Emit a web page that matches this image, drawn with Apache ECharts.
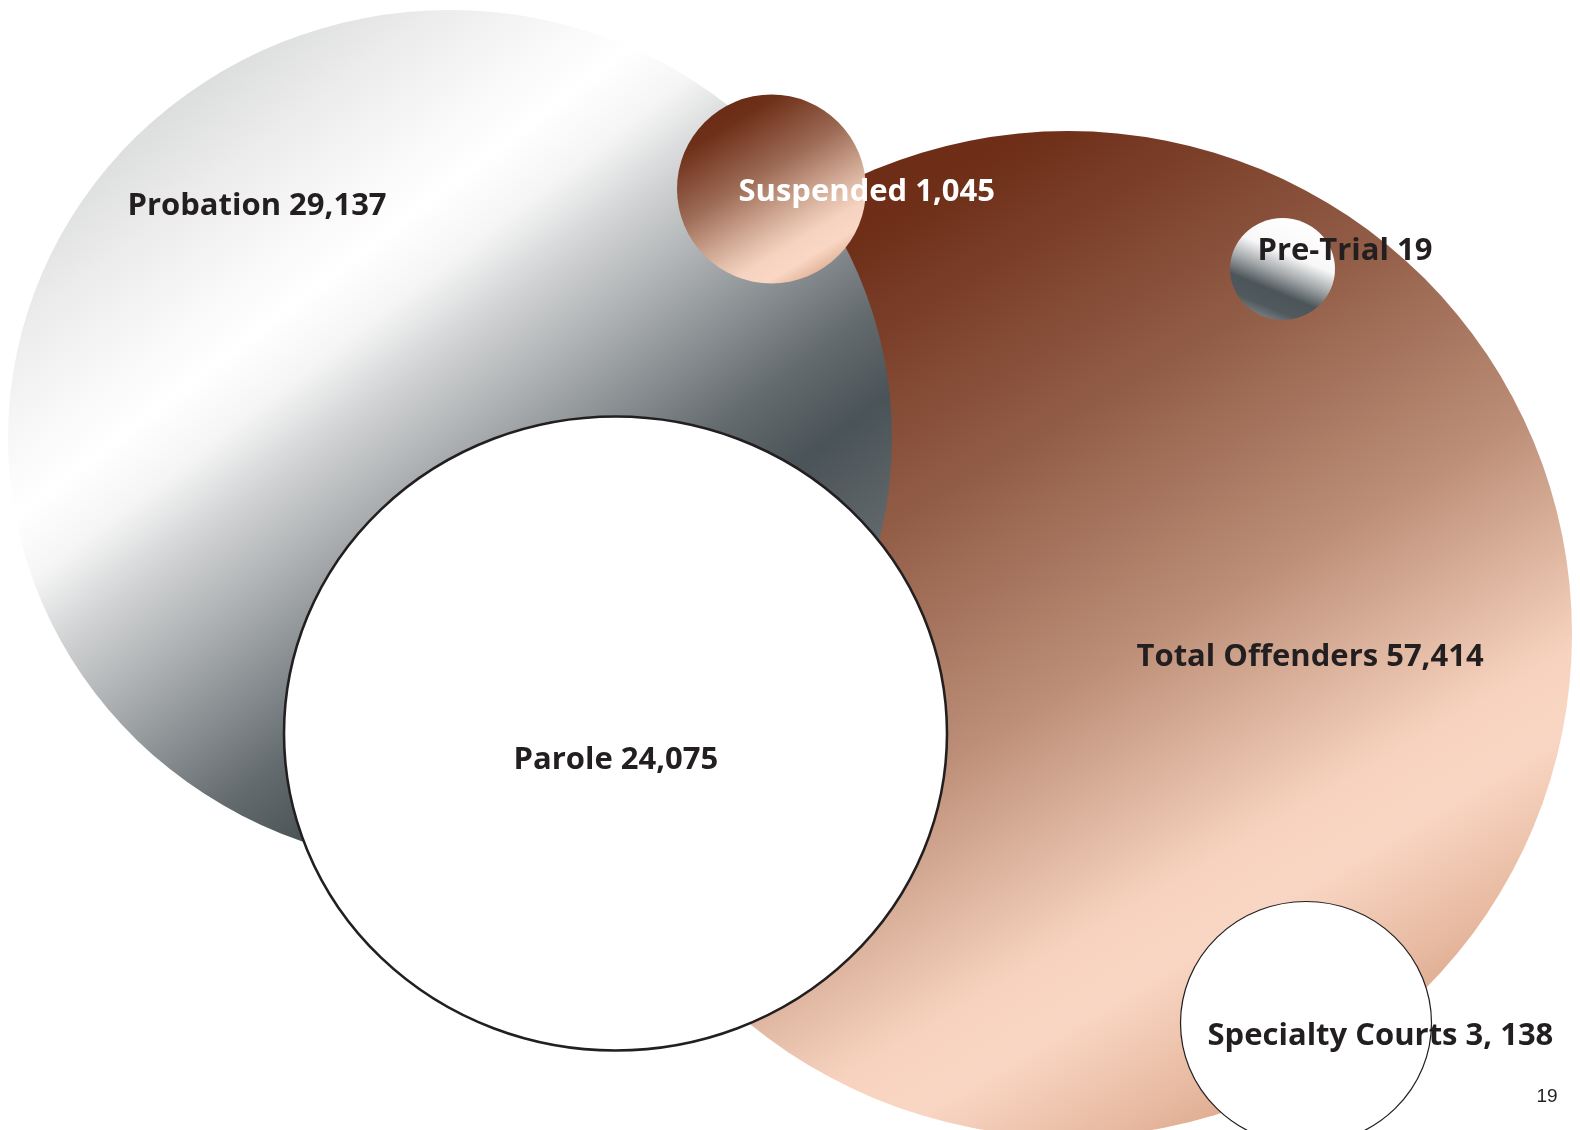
<!DOCTYPE html>
<html>
<head>
<meta charset="utf-8">
<script src="https://cdn.jsdelivr.net/npm/echarts@6/dist/echarts.min.js"></script>
<style>
  html, body { margin: 0; padding: 0; background: #ffffff; }
  #chart { width: 1580px; height: 1130px; }
</style>
</head>
<body>
<div id="chart"></div>
<script>
// ---- data ----
const names = ['Total Offenders', 'Probation', 'Suspended', 'Parole', 'Pre-Trial', 'Specialty Courts'];
const values = [57414, 29137, 1045, 24075, 19, 3138];
const valueText = ['57,414', '29,137', '1,045', '24,075', '19', '3, 138'];
const pageNumber = '19';

// ---- layout (diagram positions in axis units, sizes in px) ----
const bubbleX = [1068, 450, 771.5, 615.5, 1282.5, 1306];
const bubbleY = [634, 438, 189, 733.5, 269, 1023];
const bubbleW = [1008, 884, 189, 663, 105, 251];
const bubbleH = [1006, 856, 189, 634, 102, 243];
const labelX = [1137, 128, 739, 514, 1258, 1208];
const labelY = [658, 207, 193, 761, 251.5, 1037];
const pageX = 1537, pageY = 1097;

const LG = (x, y, x2, y2, stops) => new echarts.graphic.LinearGradient(x, y, x2, y2,
  stops.map(s => ({ offset: s[0], color: s[1] })));

const copperBig = LG(0.05, 0.086, 0.635, 1.078, [
  [0, '#6a2a14'], [0.12, '#6e2e18'], [0.35, '#925d47'], [0.55, '#bd8f78'],
  [0.65, '#dcb39d'], [0.74, '#f7d3bf'], [0.8, '#f9d6c3'], [0.9, '#e7b9a0'], [1, '#cf9677']
]);
const silverBig = LG(0.124, 0.157, 0.744, 0.942, [
  [0, '#dcdddd'], [0.1, '#ececec'], [0.2, '#f8f8f8'], [0.27, '#ffffff'], [0.34, '#f5f5f5'],
  [0.42, '#cfd1d2'], [0.5, '#b0b3b5'], [0.6, '#858b8e'], [0.68, '#646b6f'], [0.77, '#4a5357'],
  [0.9, '#62696d'], [1, '#7a8083']
]);
const copperSmall = LG(0.093, 0.154, 0.617, 1.028, [
  [0, '#6b2c16'], [0.1, '#6f3019'], [0.4, '#9c6a55'], [0.58, '#c69c86'],
  [0.7, '#e0bca9'], [0.8, '#f6d3c0'], [0.9, '#f9d7c4'], [1, '#e2b298']
]);
const silverSmall = LG(0.75, 0.05, 0.35, 1.0, [
  [0, '#ffffff'], [0.35, '#f8f8f8'], [0.55, '#a0a5a7'],
  [0.72, '#4c5559'], [0.88, '#50595d'], [1, '#7a8083']
]);

const bubbleStyles = [
  { color: copperBig },
  { color: silverBig },
  { color: copperSmall },
  { color: '#ffffff', borderColor: '#231f20', borderWidth: 2.5 },
  { color: silverSmall },
  { color: '#ffffff', borderColor: '#231f20', borderWidth: 1.2 }
];
const labelColors = ['#231f20', '#231f20', '#ffffff', '#231f20', '#231f20', '#231f20'];

const ellipse = 'path://M0,50 A50,50 0 1,1 100,50 A50,50 0 1,1 0,50 Z';

const bubbleData = names.map((n, i) => ({
  name: n,
  value: [bubbleX[i], bubbleY[i], values[i]],
  symbolSize: [bubbleW[i], bubbleH[i]],
  itemStyle: Object.assign({ opacity: 1 }, bubbleStyles[i])
}));

const labelFont = { fontFamily: 'Open Sans', fontWeight: 700, fontSize: 31 };
const labelData = names.map((n, i) => ({
  name: n,
  value: [labelX[i], labelY[i], values[i]],
  label: Object.assign({ color: labelColors[i], opacity: 1 }, labelFont),
  labelText: n + ' ' + valueText[i]
}));
labelData.push({
  name: 'page',
  value: [pageX, pageY, 0],
  label: { color: '#231f20', opacity: 1, fontFamily: 'Liberation Sans', fontWeight: 400, fontSize: 19 },
  labelText: pageNumber
});

const chart = echarts.init(document.getElementById('chart'), null, { renderer: 'canvas' });
chart.setOption({
  animation: false,
  backgroundColor: '#ffffff',
  grid: { left: 0, right: 0, top: 0, bottom: 0 },
  xAxis: { type: 'value', min: 0, max: 1580, show: false },
  yAxis: { type: 'value', min: 0, max: 1130, inverse: true, show: false },
  tooltip: { show: false },
  series: [
    {
      type: 'scatter',
      name: 'bubbles',
      symbol: ellipse,
      symbolKeepAspect: false,
      silent: true,
      clip: false,
      emphasis: { disabled: true },
      itemStyle: { opacity: 1 },
      data: bubbleData,
      z: 2
    },
    {
      type: 'scatter',
      name: 'labels',
      symbol: 'circle',
      symbolSize: 1,
      silent: true,
      clip: false,
      emphasis: { disabled: true },
      itemStyle: { color: 'rgba(0,0,0,0)', opacity: 1 },
      label: {
        show: true,
        position: [0, 0],
        align: 'left',
        verticalAlign: 'middle',
        formatter: p => labelData[p.dataIndex].labelText
      },
      data: labelData.map(d => ({ name: d.name, value: d.value, label: d.label })),
      z: 5
    }
  ]
});
</script>
</body>
</html>
